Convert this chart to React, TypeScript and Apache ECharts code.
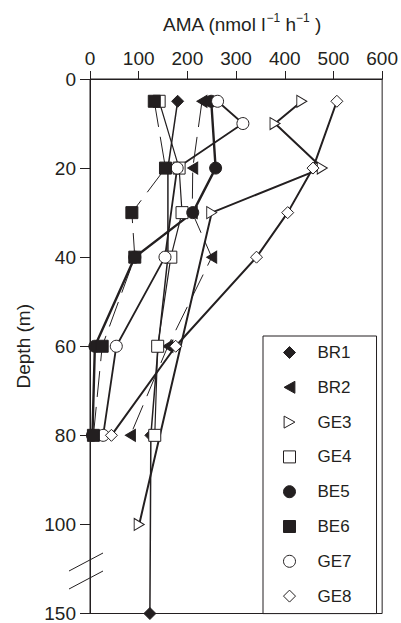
import React, { useEffect, useRef } from "react";
import * as echarts from "echarts";

// ---- data ----
const amaTicks = [0, 100, 200, 300, 400, 500, 600];
const depthTickLabels = [0, 20, 40, 60, 80, 100, 150];

const br1Depth = [5, 20, 40, 60, 80, 150];
const br1Ama = [180, 160, 160, 140, 125, 123];

const br2Depth = [5, 20, 30, 40, 60, 80];
const br2Ama = [230, 211, 210, 250, 160, 83];

const ge3Depth = [5, 10, 20, 30, 100];
const ge3Ama = [435, 380, 477, 250, 101];

const ge4Depth = [5, 20, 30, 40, 60, 80];
const ge4Ama = [142, 183, 189, 166, 139, 133];

const be5Depth = [5, 20, 30, 40, 60, 80];
const be5Ama = [249, 258, 211, 92, 10, 5];

const be6Depth = [5, 20, 30, 40, 60, 80];
const be6Ama = [132, 155, 86, 92, 25, 7];

const ge7Depth = [5, 10, 20, 40, 60, 80];
const ge7Ama = [262, 314, 179, 154, 54, 27];

const ge8Depth = [5, 20, 30, 40, 60, 80];
const ge8Ama = [507, 458, 406, 342, 176, 44];

const legendOrder = ["BR1", "BR2", "GE3", "GE4", "BE5", "BE6", "GE7", "GE8"];

// ---- axis break: 100..150 m compressed into 20 axis units ----
const BREAK_START = 100;
const BREAK_END = 150;
const BREAK_SPAN = 20;
const toAxis = (d: number) =>
  d <= BREAK_START ? d : BREAK_START + ((d - BREAK_START) * BREAK_SPAN) / (BREAK_END - BREAK_START);
const fromAxis = (v: number) =>
  v <= BREAK_START ? v : BREAK_START + ((v - BREAK_START) * (BREAK_END - BREAK_START)) / BREAK_SPAN;

const FONT = "'Liberation Sans', Arial, Helvetica, sans-serif";
const INK = "#231f20";

const LEFT_TRI = "path://M0,5L9,0L9,10Z";
const RIGHT_TRI = "path://M9,5L0,0L0,10Z";

type Spec = {
  name: string;
  depth: number[];
  ama: number[];
  symbol: string;
  legendIcon: string;
  size: number | number[];
  fill: string;
  width: number;
  type: any;
  rotate?: number;
};

const makeSeries = (s: Spec) => ({
  name: s.name,
  type: "line",
  data: s.ama.map((v, i) => [v, toAxis(s.depth[i])]),
  symbol: s.symbol,
  symbolSize: s.size,
  symbolRotate: s.rotate || 0,
  showSymbol: true,
  showAllSymbol: true,
  itemStyle: { color: s.fill, borderColor: INK, borderWidth: 1, opacity: 1 },
  lineStyle: { color: INK, width: s.width, type: s.type },
  emphasis: { disabled: true },
  silent: true,
});

const specs: Spec[] = [
  { name: "BR1", depth: br1Depth, ama: br1Ama, symbol: "diamond", legendIcon: "diamond", size: 12, fill: INK, width: 1.5, type: "solid" },
  { name: "BR2", depth: br2Depth, ama: br2Ama, symbol: "triangle", legendIcon: LEFT_TRI, size: [12, 10], fill: INK, width: 1, type: [26, 10], rotate: 90 },
  { name: "GE4", depth: ge4Depth, ama: ge4Ama, symbol: "rect", legendIcon: "rect", size: 12, fill: "#fff", width: 1.2, type: "solid" },
  { name: "BE5", depth: be5Depth, ama: be5Ama, symbol: "circle", legendIcon: "circle", size: 12, fill: INK, width: 2.4, type: "solid" },
  { name: "GE7", depth: ge7Depth, ama: ge7Ama, symbol: "circle", legendIcon: "circle", size: 12, fill: "#fff", width: 1.8, type: "solid" },
  { name: "GE3", depth: ge3Depth, ama: ge3Ama, symbol: "triangle", legendIcon: RIGHT_TRI, size: [12, 10], fill: "#fff", width: 2, type: "solid", rotate: -90 },
  { name: "GE8", depth: ge8Depth, ama: ge8Ama, symbol: "diamond", legendIcon: "diamond", size: 12, fill: "#fff", width: 2, type: "solid" },
  { name: "BE6", depth: be6Depth, ama: be6Ama, symbol: "rect", legendIcon: "rect", size: 12, fill: INK, width: 1, type: [26, 10] },
];

const legendData = legendOrder.map((n) => {
  const s = specs.find((x) => x.name === n)!;
  return {
    name: n,
    icon: s.legendIcon,
    itemStyle: { color: s.fill, borderColor: INK, borderWidth: 1 },
  };
});

const option: any = {
  animation: false,
  grid: {
    left: 90,
    right: 13,
    top: 79,
    bottom: 2,
    show: true,
    borderColor: INK,
    borderWidth: 1,
    backgroundColor: "transparent",
  },
  xAxis: {
    type: "value",
    position: "top",
    min: amaTicks[0],
    max: amaTicks[amaTicks.length - 1],
    interval: 100,
    axisLine: { show: true, lineStyle: { color: INK, width: 1 } },
    axisTick: { show: true, inside: false, length: 8, lineStyle: { color: INK, width: 1 } },
    axisLabel: { show: true, margin: 11, fontSize: 19, color: INK, fontFamily: FONT },
    splitLine: { show: false },
  },
  yAxis: {
    type: "value",
    inverse: true,
    min: 0,
    max: toAxis(depthTickLabels[depthTickLabels.length - 1]),
    interval: 20,
    name: "Depth (m)",
    nameLocation: "middle",
    nameRotate: 90,
    nameGap: 57,
    nameTextStyle: { fontSize: 19, color: INK, fontFamily: FONT },
    axisLine: { show: true, lineStyle: { color: INK, width: 1 } },
    axisTick: { show: true, inside: false, length: 10, lineStyle: { color: INK, width: 1 } },
    axisLabel: {
      show: true,
      margin: 14,
      fontSize: 19,
      color: INK,
      fontFamily: FONT,
      padding: [0, 0, 12, 0],
      formatter: (v: number) => {
        const d = Math.round(fromAxis(v));
        return depthTickLabels.indexOf(d) >= 0 ? String(d) : "";
      },
    },
    splitLine: { show: false },
  },
  legend: {
    orient: "vertical",
    left: 263,
    top: 336,
    padding: [8, 25, 9, 20],
    borderColor: INK,
    borderWidth: 1,
    backgroundColor: "#fff",
    itemWidth: 12,
    itemHeight: 12,
    itemGap: 17.8,
    selectedMode: false,
    textStyle: { fontSize: 17, color: INK, fontFamily: FONT, padding: [0, 0, 0, 17] },
    data: legendData,
  },
  graphic: [
    {
      type: "text",
      left: 163,
      top: 12,
      style: {
        text: "{a|AMA (nmol l}{s|−1}{a| h}{s|−1}{a| )}",
        rich: {
          a: { fontSize: 19, fontFamily: FONT, fill: INK, lineHeight: 24, verticalAlign: "middle" },
          s: { fontSize: 12, fontFamily: FONT, fill: INK, lineHeight: 24, verticalAlign: "top" },
        },
      },
    },
    { type: "line", shape: { x1: 69, y1: 571, x2: 103, y2: 553 }, style: { stroke: INK, lineWidth: 1 } },
    { type: "line", shape: { x1: 69, y1: 589, x2: 103, y2: 571 }, style: { stroke: INK, lineWidth: 1 } },
  ],
  series: specs.map(makeSeries),
};

export default function App() {
  const ref = useRef<HTMLDivElement>(null);
  useEffect(() => {
    if (!ref.current) return;
    const chart = echarts.init(ref.current, null, { renderer: "svg" });
    chart.setOption(option);
    return () => chart.dispose();
  }, []);
  return (
    <div
      ref={ref}
      style={{ position: "absolute", left: 0, top: 0, width: 401, height: 623, background: "#fff" }}
    />
  );
}
